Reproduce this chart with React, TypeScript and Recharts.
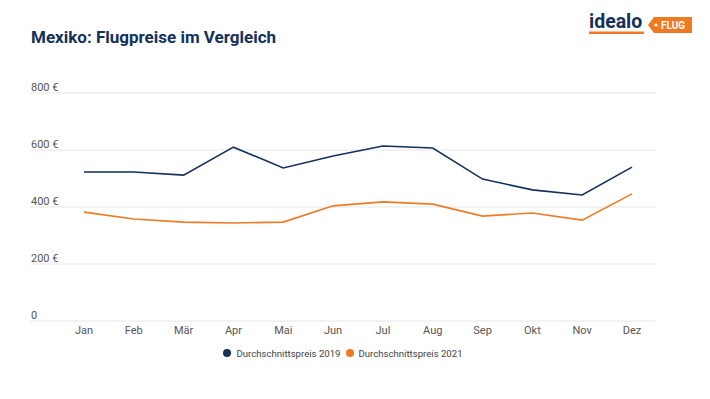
import React from 'react';
import { LineChart, Line, XAxis, YAxis, CartesianGrid, Legend } from 'recharts';

const months = ['Jan', 'Feb', 'Mär', 'Apr', 'Mai', 'Jun', 'Jul', 'Aug', 'Sep', 'Okt', 'Nov', 'Dez'];
const prices2019 = [523, 523, 512, 610, 537, 579, 614, 607, 498, 460, 442, 540];
const prices2021 = [382, 358, 347, 344, 347, 404, 418, 410, 368, 379, 354, 446];
const yTicks = [0, 200, 400, 600, 800];

const NAVY = '#13315a';
const ORANGE = '#f07a22';
const FONT = 'Roboto, "Noto Sans", sans-serif';

const data = months.map((m, i) => ({
  month: m,
  y2019: prices2019[i],
  y2021: prices2021[i],
}));

const YTick = (props: any) => {
  const { y, payload } = props;
  const label = payload.value === 0 ? '0' : `${payload.value} €`;
  return (
    <text x={31} y={y - 2.5} fill="#555" fontSize={11} fontFamily={FONT} textAnchor="start">
      {label}
    </text>
  );
};

const LegendContent = () => (
  <div style={{ display: 'flex', justifyContent: 'center', alignItems: 'center', height: 20, fontFamily: FONT, fontSize: 9.6, color: '#444', paddingLeft: 30 }}>
    <span style={{ width: 8, height: 8, borderRadius: '50%', background: NAVY, display: 'inline-block', marginRight: 5 }} />
    <span style={{ marginRight: 5 }}>Durchschnittspreis 2019</span>
    <span style={{ width: 8, height: 8, borderRadius: '50%', background: ORANGE, display: 'inline-block', marginRight: 5 }} />
    <span>Durchschnittspreis 2021</span>
  </div>
);

const Logo = () => (
  <svg width={120} height={40} style={{ position: 'absolute', left: 585, top: 8 }}>
    <text x={4} y={20} fontFamily={FONT} fontWeight={700} fontSize={19.5} fill={NAVY}>idealo</text>
    <rect x={4} y={23.5} width={55} height={2.5} fill={ORANGE} />
    <path d="M63 17 L69 9 L107 9 L107 25 L69 25 Z" fill={ORANGE} />
    <circle cx={71} cy={17} r={1.6} fill="#fff" />
    <text x={76} y={21} fontFamily={FONT} fontWeight={700} fontSize={10} fill="#fff">FLUG</text>
  </svg>
);

export default function App() {
  return (
    <div style={{ position: 'absolute', left: 0, top: 0, width: 710, height: 399, background: '#fff', fontFamily: FONT }}>
      <div style={{ position: 'absolute', left: 31, top: 27, fontSize: 17, fontWeight: 700, color: NAVY }}>
        Mexiko: Flugpreise im Vergleich
      </div>
      <Logo />
      <LineChart
        width={710}
        height={399}
        data={data}
        margin={{ top: 93, right: 54, bottom: 36, left: 0 }}
      >
        <CartesianGrid horizontal vertical={false} stroke="#e6e6e6" />
        <XAxis
          dataKey="month"
          axisLine={false}
          tickLine={false}
          tickSize={0}
          tickMargin={5}
          height={22}
          padding={{ left: 54, right: 24 }}
          tick={{ fill: '#555', fontSize: 11, fontFamily: FONT }}
          interval={0}
        />
        <YAxis
          width={30}
          domain={[0, 800]}
          ticks={yTicks}
          axisLine={false}
          tickLine={false}
          tick={<YTick />}
        />
        <Legend verticalAlign="bottom" height={20} content={<LegendContent />} />
        <Line type="linear" dataKey="y2019" stroke={NAVY} strokeWidth={1.6} dot={false} isAnimationActive={false} />
        <Line type="linear" dataKey="y2021" stroke={ORANGE} strokeWidth={1.6} dot={false} isAnimationActive={false} />
      </LineChart>
    </div>
  );
}
